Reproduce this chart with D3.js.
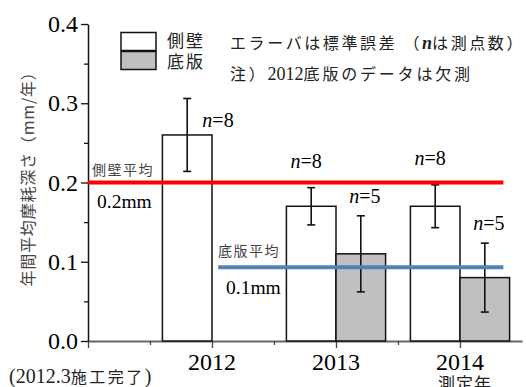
<!DOCTYPE html>
<html>
<head>
<meta charset="utf-8">
<script src="https://cdn.jsdelivr.net/npm/d3@7"></script>
<style>
  body { margin: 0; background: #fff; }
  svg { display: block; }
  .jp { font-family: "Noto Sans CJK JP", sans-serif; }
</style>
</head>
<body>
<div id="chart"></div>
<script>
// chart data
let years = [2012, 2013, 2014];
let sideWall = [0.26, 0.17, 0.17];          // 側壁
let sideErr = [0.046, 0.0235, 0.027];
let sideN = [8, 8, 8];
let baseYears = [2013, 2014];               // 2012底版は欠測
let basePlate = [0.11, 0.08];               // 底版
let baseErr = [0.048, 0.0435];
let baseN = [5, 5];
let sideAvg = 0.2;
let baseAvg = 0.093;
let yTicks = [0.0, 0.1, 0.2, 0.3, 0.4];

let serifFont = '"Liberation Serif", "Noto Sans CJK JP", serif';

let svgWidth = 526;
let svgHeight = 387;

let svg = d3.select('#chart')
    .append('svg')
    .attr('width', svgWidth)
    .attr('height', svgHeight);

// scales
let x = d3.scaleLinear().domain([2011, 2014.5]).range([88, 522]);
let y = d3.scaleLinear().domain([0, 0.4]).range([341, 24]);
let barW = x(2012) - x(2011.6);

// x axis (major ticks at years, minor at midpoints)
let xAxis = svg.append('g')
    .attr('transform', `translate(0, ${y(0)})`)
    .call(d3.axisBottom(x).tickValues([2011].concat(years)).tickSize(7).tickFormat('').tickSizeOuter(0));
let xMinor = svg.append('g')
    .attr('transform', `translate(0, ${y(0)})`)
    .call(d3.axisBottom(x).tickValues([2011.5, 2012.5, 2013.5]).tickSize(4).tickFormat('').tickSizeOuter(0));
xMinor.select('.domain').remove();
xAxis.selectAll('line').attr('stroke', '#444').attr('stroke-width', 1.3);
xMinor.selectAll('line').attr('stroke', '#444').attr('stroke-width', 1.3);
xAxis.select('.domain').attr('stroke', '#666').attr('stroke-width', 2);

// y axis
let yAxis = svg.append('g')
    .attr('transform', `translate(${x(2011)}, 0)`)
    .call(d3.axisLeft(y).tickValues(yTicks).tickSize(7).tickSizeOuter(0).tickFormat(d3.format('.1f')))
    .attr('font-family', serifFont);
yAxis.select('.domain').attr('stroke', '#111').attr('stroke-width', 1.5);
yAxis.selectAll('line').attr('stroke', '#111').attr('stroke-width', 1.3);
yAxis.selectAll('text')
    .attr('font-family', serifFont)
    .attr('font-size', 24)
    .attr('fill', '#000')
    .attr('x', -10);
svg.append('g')
    .attr('transform', `translate(${x(2011)}, 0)`)
    .call(d3.axisLeft(y).tickValues([0.05, 0.15, 0.25, 0.35]).tickSize(4).tickFormat(''))
    .call(g => g.select('.domain').remove())
    .selectAll('line').attr('stroke', '#111').attr('stroke-width', 1.3);

// x tick labels
svg.selectAll('.xlab')
    .data(years)
    .enter()
    .append('text')
    .attr('font-family', serifFont)
    .attr('x', d => x(d))
    .attr('y', 370)
    .attr('text-anchor', 'middle')
    .attr('font-size', 24)
    .text(d => d);

// bars: side wall (white), left of year
svg.selectAll('.side')
    .data(years)
    .enter()
    .append('rect')
    .attr('x', d => x(d) - barW)
    .attr('y', (d, i) => y(sideWall[i]))
    .attr('width', barW)
    .attr('height', (d, i) => y(0) - y(sideWall[i]))
    .attr('fill', '#fff')
    .attr('stroke', '#111')
    .attr('stroke-width', 1.5);

// bars: base plate (gray), right of year
svg.selectAll('.base')
    .data(baseYears)
    .enter()
    .append('rect')
    .attr('x', d => x(d))
    .attr('y', (d, i) => y(basePlate[i]))
    .attr('width', barW)
    .attr('height', (d, i) => y(0) - y(basePlate[i]))
    .attr('fill', '#c0c0c0')
    .attr('stroke', '#111')
    .attr('stroke-width', 1.5);

// error bars
function errBars(cx, vals, errs) {
    let g = svg.append('g').attr('stroke', '#111').attr('stroke-width', 1.6);
    cx.forEach(function(c, i) {
        g.append('line').attr('x1', c).attr('x2', c)
            .attr('y1', y(vals[i] + errs[i])).attr('y2', y(vals[i] - errs[i]));
        [vals[i] + errs[i], vals[i] - errs[i]].forEach(function(v) {
            g.append('line').attr('x1', c - 4).attr('x2', c + 4)
                .attr('y1', y(v)).attr('y2', y(v));
        });
    });
}
errBars(years.map(d => x(d) - barW / 2), sideWall, sideErr);
errBars(baseYears.map(d => x(d) + barW / 2), basePlate, baseErr);

// average lines
svg.append('line')
    .attr('x1', x(2011)).attr('x2', x(2014.35))
    .attr('y1', y(sideAvg)).attr('y2', y(sideAvg))
    .attr('stroke', '#ff0000').attr('stroke-width', 4);
svg.append('line')
    .attr('x1', x(2012.05)).attr('x2', x(2014.35))
    .attr('y1', y(baseAvg)).attr('y2', y(baseAvg))
    .attr('stroke', '#4f81bd').attr('stroke-width', 4);

// average labels
svg.append('text').attr('class', 'jp').attr('x', 92).attr('y', 175)
    .attr('font-size', 14).attr('letter-spacing', 1.5).attr('fill', '#444').text('側壁平均');
svg.append('text').attr('font-family', serifFont).attr('x', 97).attr('y', 208)
    .attr('font-size', 19.5).text('0.2mm');
svg.append('text').attr('class', 'jp').attr('x', 218).attr('y', 256)
    .attr('font-size', 14).attr('letter-spacing', 1.5).attr('fill', '#444').text('底版平均');
svg.append('text').attr('font-family', serifFont).attr('x', 226).attr('y', 294)
    .attr('font-size', 19.5).text('0.1mm');

// n labels
function nLabel(cx, cy, n) {
    let t = svg.append('text').attr('font-family', serifFont)
        .attr('x', cx).attr('y', cy).attr('text-anchor', 'middle').attr('font-size', 20);
    t.append('tspan').attr('font-style', 'italic').text('n');
    t.append('tspan').text('=' + n);
}
years.forEach(function(d, i) {
    if (i == 0) {
        nLabel(x(d) + 6, y(sideWall[i] + sideErr[i]) + 29, sideN[i]);
    } else {
        nLabel(x(d) - barW / 2 - 5, y(sideWall[i] + sideErr[i]) - 20, sideN[i]);
    }
});
baseYears.forEach(function(d, i) {
    nLabel(x(d) + barW / 2 + 4, y(basePlate[i] + baseErr[i]) - 13, baseN[i]);
});

// legend
let legend = svg.append('g');
legend.append('rect').attr('x', 121).attr('y', 32.5).attr('width', 35).attr('height', 18)
    .attr('fill', '#fff').attr('stroke', '#111').attr('stroke-width', 1.5);
legend.append('rect').attr('x', 121).attr('y', 51.5).attr('width', 35).attr('height', 18)
    .attr('fill', '#c0c0c0').attr('stroke', '#111').attr('stroke-width', 1.5);
legend.append('text').attr('class', 'jp').attr('x', 167).attr('y', 47)
    .attr('font-size', 17).attr('letter-spacing', 2).attr('fill', '#222').text('側壁');
legend.append('text').attr('class', 'jp').attr('x', 167).attr('y', 68)
    .attr('font-size', 17).attr('letter-spacing', 2).attr('fill', '#222').text('底版');

// notes
let note1 = svg.append('text').attr('class', 'jp').attr('x', 230).attr('y', 49)
    .attr('font-size', 16).attr('letter-spacing', 2.6).attr('fill', '#222');
note1.append('tspan').text('エラーバは標準誤差 （');
note1.append('tspan').attr('font-family', serifFont).attr('font-style', 'italic').attr('font-weight', 'bold')
    .attr('letter-spacing', 0).attr('font-size', 18).text('n');
note1.append('tspan').text('は測点数）');
let note2 = svg.append('text').attr('class', 'jp').attr('x', 230).attr('y', 80)
    .attr('font-size', 16).attr('letter-spacing', 2.8).attr('fill', '#222');
note2.append('tspan').text('注）');
note2.append('tspan').attr('font-family', serifFont).attr('letter-spacing', 0).attr('font-size', 18).text('2012');
note2.append('tspan').text('底版のデータは欠測');

// y label
svg.append('text').attr('class', 'jp')
    .attr('transform', 'translate(34, 175) rotate(-90)')
    .attr('text-anchor', 'middle')
    .attr('font-size', 16)
    .attr('letter-spacing', 0.8)
    .attr('fill', '#444')
    .text('年間平均摩耗深さ（mm/年）');

// bottom notes
let bn = svg.append('text').attr('font-family', serifFont).attr('x', 9).attr('y', 383)
    .attr('font-size', 20).attr('fill', '#222');
bn.append('tspan').text('(2012.3');
bn.append('tspan').attr('class', 'jp').attr('font-size', 16).attr('letter-spacing', 2.5).text('施工完了');
bn.append('tspan').text(')');
svg.append('text').attr('class', 'jp').attr('x', x(2014) + 5).attr('y', 390)
    .attr('text-anchor', 'middle').attr('font-size', 17).attr('letter-spacing', 1)
    .attr('fill', '#222').text('測定年');
</script>
</body>
</html>
